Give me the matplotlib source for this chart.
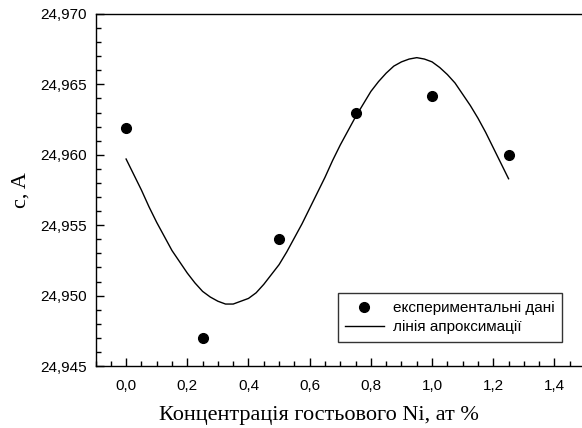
import matplotlib
matplotlib.use("Agg")
import matplotlib.pyplot as plt
from matplotlib.ticker import MultipleLocator, FuncFormatter

# experimental points
conc = [0.0, 0.25, 0.5, 0.75, 1.0, 1.25]
c_exp = [24.9619, 24.9470, 24.9540, 24.9630, 24.9642, 24.9600]

# approximation line
fit_x = [0.000, 0.025, 0.050, 0.075, 0.100, 0.125, 0.150, 0.175, 0.200, 0.225, 0.250,
         0.275, 0.300, 0.325, 0.350, 0.375, 0.400, 0.425, 0.450, 0.475, 0.500, 0.525,
         0.550, 0.575, 0.600, 0.625, 0.650, 0.675, 0.700, 0.725, 0.750, 0.775, 0.800,
         0.825, 0.850, 0.875, 0.900, 0.925, 0.950, 0.975, 1.000, 1.025, 1.050, 1.075,
         1.100, 1.125, 1.150, 1.175, 1.200, 1.225, 1.250]
fit_y = [24.9597, 24.9586, 24.9575, 24.9563, 24.9552, 24.9542, 24.9532, 24.9524, 24.9516,
         24.9509, 24.9503, 24.9499, 24.9496, 24.9494, 24.9494, 24.9496, 24.9498, 24.9502,
         24.9508, 24.9515, 24.9522, 24.9531, 24.9541, 24.9551, 24.9562, 24.9573, 24.9584,
         24.9596, 24.9607, 24.9617, 24.9627, 24.9636, 24.9645, 24.9652, 24.9658, 24.9663,
         24.9666, 24.9668, 24.9669, 24.9668, 24.9666, 24.9662, 24.9657, 24.9651, 24.9643,
         24.9635, 24.9626, 24.9616, 24.9605, 24.9594, 24.9583]

sans = ["Liberation Sans", "DejaVu Sans"]
serif = ["Liberation Serif", "DejaVu Serif"]

fig = plt.figure(figsize=(5.82, 4.28), dpi=100)
ax = fig.add_axes([95.5 / 582, 1 - 366 / 428, 1 - 95.5 / 582, (366 - 14) / 428])

ax.plot(conc, c_exp, "o", color="black", markersize=7, label="експериментальні дані")
ax.plot(fit_x, fit_y, "-", color="black", linewidth=1.0, label="лінія апроксимації")

ax.set_xlim(-0.1, 1.49)
ax.set_ylim(24.945, 24.970)
ax.xaxis.set_major_locator(MultipleLocator(0.2))
ax.xaxis.set_minor_locator(MultipleLocator(0.05))
ax.yaxis.set_major_locator(MultipleLocator(0.005))
ax.yaxis.set_minor_locator(MultipleLocator(0.001))
ax.xaxis.set_major_formatter(FuncFormatter(lambda v, p: ("%.1f" % v).replace(".", ",")))
ax.yaxis.set_major_formatter(FuncFormatter(lambda v, p: ("%.3f" % v).replace(".", ",")))

ax.tick_params(which="both", direction="in", top=False, right=False, width=1.0)
ax.tick_params(which="major", length=5.5)
ax.tick_params(which="minor", length=3.6)
ax.tick_params(axis="y", which="major", pad=6)
ax.tick_params(axis="x", which="major", pad=9)
for lab in ax.get_xticklabels() + ax.get_yticklabels():
    lab.set_family(sans)
    lab.set_fontsize(11)

ax.spines["right"].set_visible(False)
for s in ["left", "bottom", "top"]:
    ax.spines[s].set_linewidth(1.0)

ax.set_xlabel("Концентрація гостьового Ni, ат %", family=serif, fontsize=16)
ax.xaxis.set_label_coords((319 - 95.5) / 486.5, -0.115)
ax.set_ylabel("c, A", family=serif, fontsize=16)
ax.yaxis.set_label_coords(-0.133, 0.5)

leg = ax.legend(loc="lower right", bbox_to_anchor=((562 - 95.5) / 486.5, (366 - 342) / 352),
                prop={"family": sans, "size": 11}, frameon=True, fancybox=False,
                edgecolor="black", borderpad=0.5, labelspacing=0.35, handlelength=2.5,
                handletextpad=0.6, borderaxespad=0)
leg.get_frame().set_linewidth(1.0)

fig.savefig("out.png", dpi=100)
